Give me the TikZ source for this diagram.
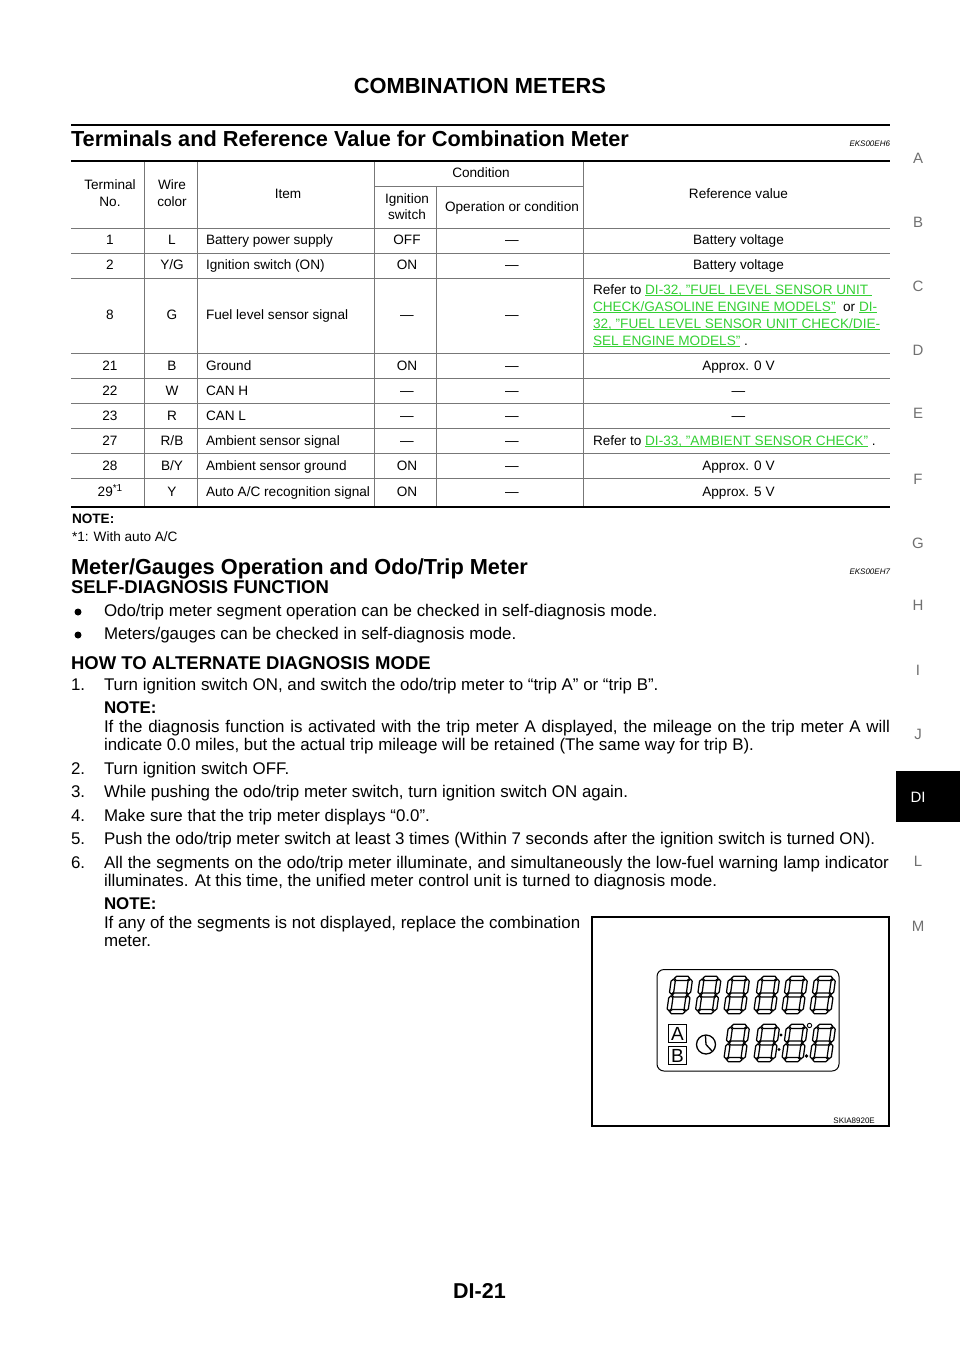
\documentclass[tikz,border=0pt]{standalone}
\usepackage{fontspec}
\setmainfont{Liberation Sans}
\definecolor{lk}{HTML}{35D035}
\definecolor{grid}{HTML}{777777}
\definecolor{side}{HTML}{707070}
\newcounter{tn}
% \TT[style]{x}{y}{text}: text on baseline y
\newcommand\TT[4][lft]{\stepcounter{tn}\node[#1] (t\arabic{tn}) at (#2,#3) {#4};}
\newcommand\lnk[1]{\textcolor{lk}{\underline{\smash{#1}}}}
\newcommand\fit[2]{\makebox[#1pt][s]{#2}}
\newcommand\hseg[3]{\filldraw[lcd] (#1,#3) -- (#1+2.1,#3-2.1) -- (#2-2.1,#3-2.1) -- (#2,#3) -- (#2-2.1,#3+2.1) -- (#1+2.1,#3+2.1) -- cycle;}
\newcommand\vseg[3]{\filldraw[lcd] (#1,#2) -- (#1+2.1,#2+2.1) -- (#1+2.1,#3-2.1) -- (#1,#3) -- (#1-2.1,#3-2.1) -- (#1-2.1,#2+2.1) -- cycle;}
\newcommand\digit[2]{\begin{scope}[shift={(#1,#2)},xslant=0.14]
\hseg{1.6}{17}{1.8}\hseg{1.6}{17}{18.5}\hseg{1.6}{17}{35.2}
\vseg{.8}{2.6}{17.7}\vseg{17.8}{2.6}{17.7}\vseg{.8}{19.3}{34.4}\vseg{17.8}{19.3}{34.4}
\end{scope}}
\tikzset{x=1pt,y=-1pt,
 lft/.style={anchor=base west,inner sep=0pt,outer sep=0pt,font=\fontsize{16.9}{19}\selectfont},
 tb/.style={anchor=base,inner sep=0pt,outer sep=0pt,font=\fontsize{13.6}{15}\selectfont},
 tl/.style={anchor=base west,inner sep=0pt,outer sep=0pt,font=\fontsize{13.6}{15}\selectfont},
 head/.style={anchor=base west,inner sep=0pt,outer sep=0pt,font=\fontsize{21.75}{26}\bfseries\selectfont},
 sub/.style={anchor=base west,inner sep=0pt,outer sep=0pt,font=\fontsize{18.5}{20}\bfseries\selectfont},
 tag/.style={anchor=base east,inner sep=0pt,outer sep=0pt,font=\fontsize{8}{9}\itshape\selectfont},
 sd/.style={anchor=base,inner sep=0pt,outer sep=0pt,text=side,font=\fontsize{15}{17}\selectfont},
 gl/.style={draw=grid,line width=1pt},
 thick rule/.style={draw=black,line width=2.2pt},
 lcd/.style={draw=black,fill=white,line width=1.25pt,line join=round},
 bul/.style={circle,fill=black,inner sep=0pt,minimum size=7pt}}
\begin{document}
\begin{tikzpicture}
\useasboundingbox (0,0) rectangle (960,1358);
\fill[white] (0,0) rectangle (960,1358);
% headers
\TT[anchor=base,inner sep=0pt,font=\fontsize{21.85}{24}\bfseries\selectfont]{480}{93}{COMBINATION METERS}
\TT[anchor=base,inner sep=0pt,font=\fontsize{21.5}{24}\bfseries\selectfont]{479.5}{1298}{DI-21}
\draw[thick rule,line width=2.6pt] (71,125) -- (890,125);
\TT[head]{71}{146.3}{Terminals and Reference Value for Combination Meter}
\TT[tag]{890}{146}{EKS00EH6}
% table grid
\foreach \x in {144,197,374,583} \draw[gl] (\x,161) -- (\x,507);
\draw[gl] (436,186) -- (436,507);
\draw[gl] (374,186) -- (583,186);
\foreach \y in {228,253,278,353,378,403,428,453,478} \draw[gl] (71,\y) -- (890,\y);
\draw[thick rule] (71,161) -- (890,161);
\draw[thick rule] (71,507) -- (890,507);
% table head
\TT[tb]{110}{189.5}{Terminal}\TT[tb]{110}{206}{No.}
\TT[tb]{172}{189.5}{Wire}\TT[tb]{172}{206}{color}
\TT[tb]{288}{198}{Item}
\TT[tb]{481}{177}{Condition}
\TT[tb]{407}{203}{Ignition}\TT[tb]{407}{219}{switch}
\TT[tb]{512}{211}{Operation or condition}
\TT[tb]{738.5}{198}{Reference value}
% rows
\TT[tb]{110}{244}{1}\TT[tb]{172}{244}{L}\TT[tl]{206}{244}{Battery power supply}\TT[tb]{407}{244}{OFF}\TT[tb]{512}{244}{—}\TT[tb]{738.5}{244}{Battery voltage}
\TT[tb]{110}{269}{2}\TT[tb]{172}{269}{Y/G}\TT[tl]{206}{269}{Ignition switch (ON)}\TT[tb]{407}{269}{ON}\TT[tb]{512}{269}{—}\TT[tb]{738.5}{269}{Battery voltage}
\TT[tb]{110}{319}{8}\TT[tb]{172}{319}{G}\TT[tl]{206}{319}{Fuel level sensor signal}\TT[tb]{407}{319}{—}\TT[tb]{512}{319}{—}
\TT[tl]{593}{294}{Refer to \lnk{DI-32, "FUEL LEVEL SENSOR UNIT\ }}
\TT[tl]{593}{311}{\lnk{CHECK/GASOLINE ENGINE MODELS"}\ \ or \lnk{DI-}}
\TT[tl]{593}{328}{\lnk{32, "FUEL LEVEL SENSOR UNIT CHECK/DIE-}}
\TT[tl]{593}{345}{\lnk{SEL ENGINE MODELS"} .}
\TT[tb]{110}{370}{21}\TT[tb]{172}{370}{B}\TT[tl]{206}{370}{Ground}\TT[tb]{407}{370}{ON}\TT[tb]{512}{370}{—}\TT[tb]{738.5}{370}{Approx. 0 V}
\TT[tb]{110}{395}{22}\TT[tb]{172}{395}{W}\TT[tl]{206}{395}{CAN H}\TT[tb]{407}{395}{—}\TT[tb]{512}{395}{—}\TT[tb]{738.5}{395}{—}
\TT[tb]{110}{420}{23}\TT[tb]{172}{420}{R}\TT[tl]{206}{420}{CAN L}\TT[tb]{407}{420}{—}\TT[tb]{512}{420}{—}\TT[tb]{738.5}{420}{—}
\TT[tb]{110}{445}{27}\TT[tb]{172}{445}{R/B}\TT[tl]{206}{445}{Ambient sensor signal}\TT[tb]{407}{445}{—}\TT[tb]{512}{445}{—}
\TT[tl]{593}{445}{Refer to \lnk{DI-33, "AMBIENT SENSOR CHECK"} .}
\TT[tb]{110}{470}{28}\TT[tb]{172}{470}{B/Y}\TT[tl]{206}{470}{Ambient sensor ground}\TT[tb]{407}{470}{ON}\TT[tb]{512}{470}{—}\TT[tb]{738.5}{470}{Approx. 0 V}
\TT[tb]{110}{496.5}{29\raisebox{5pt}{\fontsize{10}{11}\selectfont *1}}\TT[tb]{172}{496.5}{Y}
\TT[tl]{206}{496.5}{Auto A/C recognition signal}\TT[tb]{407}{496.5}{ON}\TT[tb]{512}{496.5}{—}\TT[tb]{738.5}{496.5}{Approx. 5 V}
% note
\TT[tl,font=\fontsize{13.6}{15}\bfseries\selectfont]{72}{523}{NOTE:}
\TT[tl]{72}{541}{*1: With auto A/C}
% section 2
\TT[head]{71}{574}{Meter/Gauges Operation and Odo/Trip Meter}
\TT[tag]{890}{574}{EKS00EH7}
\TT[sub]{71}{593}{SELF-DIAGNOSIS FUNCTION}
\node[bul] (b1) at (78,612) {};
\TT{104}{616}{Odo/trip meter segment operation can be checked in self-diagnosis mode.}
\node[bul] (b2) at (78,635) {};
\TT{104}{639.5}{Meters/gauges can be checked in self-diagnosis mode.}
\TT[sub]{71}{669}{HOW TO ALTERNATE DIAGNOSIS MODE}
\TT{71}{690}{1.}\TT{104}{690}{Turn ignition switch ON, and switch the odo/trip meter to “trip A” or “trip B”.}
\TT[lft,font=\fontsize{16.9}{19}\bfseries\selectfont]{104}{713}{NOTE:}
\TT{104}{732}{\fit{786}{If the diagnosis function is activated with the trip meter A displayed, the mileage on the trip meter A will}}
\TT{104}{750}{indicate 0.0 miles, but the actual trip mileage will be retained (The same way for trip B).}
\TT{71}{774}{2.}\TT{104}{774}{Turn ignition switch OFF.}
\TT{71}{797.5}{3.}\TT{104}{797.5}{While pushing the odo/trip meter switch, turn ignition switch ON again.}
\TT{71}{821}{4.}\TT{104}{821}{Make sure that the trip meter displays “0.0”.}
\TT{71}{844.5}{5.}\TT{104}{844.5}{Push the odo/trip meter switch at least 3 times (Within 7 seconds after the ignition switch is turned ON).}
\TT{71}{868}{6.}\TT{104}{868}{\fit{785}{All the segments on the odo/trip meter illuminate, and simultaneously the low-fuel warning lamp indicator}}
\TT{104}{886}{illuminates. At this time, the unified meter control unit is turned to diagnosis mode.}
\TT[lft,font=\fontsize{16.9}{19}\bfseries\selectfont]{104}{909}{NOTE:}
\TT{104}{928}{If any of the segments is not displayed, replace the combination}
\TT{104}{946}{meter.}
% figure
\draw[black,line width=1.3pt] (592,917) rectangle (889,1126);
\TT[anchor=base east,inner sep=0pt,font=\fontsize{8}{9}\selectfont]{875}{1123}{SKIA8920E}
\draw[black,line width=1pt,rounded corners=7pt] (657,969.5) rectangle (839,1071);
\foreach \x in {673,701.5,730,760,788,816} {\digit{\x}{976.5}}
\foreach \x in {730,760,788,816} {\digit{\x}{1024.5}}
\node[draw=black,line width=.9pt,minimum size=18.5pt,inner sep=0pt,font=\fontsize{19}{20}\selectfont] (ba) at (677.5,1033.5) {A};
\node[draw=black,line width=.9pt,minimum size=18.5pt,inner sep=0pt,font=\fontsize{19}{20}\selectfont] (bb) at (677.5,1055.5) {B};
\draw[black,line width=1.3pt] (706,1044.5) circle (9.5);
\draw[black,line width=1.3pt] (705.5,1036) -- (706,1044.5) -- (712,1051);
\fill[black] (781,1035) circle (1.7) (779,1049.5) circle (1.7) (806.5,1056) circle (1.8);
\draw[black,line width=.9pt] (809.5,1025.5) circle (2.2);
% side index
\fill[black] (896,771) rectangle (960,822);
\TT[sd]{918}{163}{A}\TT[sd]{918}{227}{B}\TT[sd]{918}{291}{C}\TT[sd]{918}{355}{D}
\TT[sd]{918}{418}{E}\TT[sd]{918}{484}{F}\TT[sd]{918}{548}{G}\TT[sd]{918}{610}{H}
\TT[sd]{918}{675}{I}\TT[sd]{918}{739}{J}\TT[sd,text=white]{918}{802.5}{DI}\TT[sd]{918}{866}{L}\TT[sd]{918}{931}{M}
\end{tikzpicture}
\end{document}
